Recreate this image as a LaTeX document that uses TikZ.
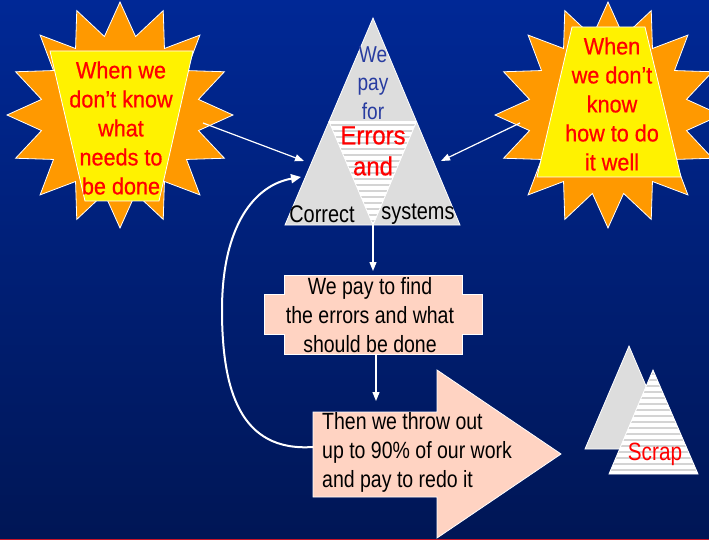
\documentclass[tikz,border=0pt]{standalone}
\usepackage{fontspec}
\newfontfamily\narrowfont{Liberation Sans}[FakeStretch=0.83]
\newfontfamily\redfont{Liberation Sans}[FakeStretch=0.92,FakeBold=0.6]
\usetikzlibrary{arrows.meta}
\definecolor{bgtop}{RGB}{0,40,150}
\definecolor{bgbot}{RGB}{0,22,85}
\definecolor{burst}{RGB}{255,153,0}
\definecolor{peach}{RGB}{255,211,194}
\definecolor{trigray}{RGB}{221,221,221}
\definecolor{stripegray}{RGB}{212,212,212}
\definecolor{blueword}{RGB}{40,60,160}
\definecolor{edgered}{RGB}{200,20,40}

\begin{document}
\begin{tikzpicture}[x=1pt,y=-1pt,
  burstshape/.style={fill=burst,draw=white,line width=0.8pt,line join=miter},
  panel/.style={fill=yellow,draw=white,line width=0.8pt},
  tri/.style={fill=trigray,draw=white,line width=0.8pt},
  peachshape/.style={fill=peach,draw=white,line width=0.8pt},
  pointer/.style={draw=white,line width=1.2pt,-{Triangle[length=9pt,width=7pt]}},
  backarrow/.style={draw=white,line width=2pt,-{Triangle[length=10pt,width=9pt]}},
  txt/.style={inner sep=0pt,align=center,font=\narrowfont\fontsize{23.5}{29}\selectfont},
  redtxt/.style={txt,text=red,font=\redfont\fontsize{23.5}{29}\selectfont},
  stripes/.style={stripegray,line width=2pt},
]

% background
\shade[top color=bgtop,bottom color=bgbot] (0,0) rectangle (709,540);
\useasboundingbox (0,0) rectangle (709,540);
\draw[edgered,line width=1.2pt] (0,539.4) -- (709,539.4);

% left starburst
\begin{scope}[shift={(120,115)}]
  \draw[burstshape] (90:113) \foreach \k in {0,...,15}{ -- ({101.25+\k*22.5}:80) -- ({112.5+\k*22.5}:113)} -- cycle;
\end{scope}
\draw[panel] (50,51) -- (193,51) -- (159,201) -- (85,201) -- cycle;
\node[redtxt] (leftText) at (121,128) {When we\\don’t know\\what\\needs to\\be done};

% right starburst
\begin{scope}[shift={(608,115)}]
  \draw[burstshape] (90:113) \foreach \k in {0,...,15}{ -- ({101.25+\k*22.5}:80) -- ({112.5+\k*22.5}:113)} -- cycle;
\end{scope}
\draw[panel] (572,27) -- (645,27) -- (681,177) -- (537,177) -- cycle;
\node[redtxt] (rightText) at (612,104) {When\\we don’t\\know\\how to do\\it well};

% central triangle
\draw[tri] (373,18) -- (460,225) -- (285,225) -- cycle;
\begin{scope}
  \clip (329,121.5) -- (416.5,121.5) -- (373,225) -- cycle;
  \fill[white] (320,115) rectangle (425,230);
  \foreach \y in {125,131,...,224} \draw[stripes] (320,\y) -- (425,\y);
\end{scope}
\draw[white,line width=0.8pt] (329,121.5) -- (416.5,121.5) -- (373,225) -- cycle;
\node[txt,text=blueword,font=\narrowfont\fontsize{23}{28.5}\selectfont] (payFor) at (373,83) {We\\pay\\for};
\node[redtxt,font=\redfont\fontsize{26}{31}\selectfont] (errors) at (373,151) {Errors\\and};
\node[txt,text=black,font=\narrowfont\fontsize{24}{29}\selectfont] (correct) at (322,214) {Correct};
\node[txt,text=black,font=\narrowfont\fontsize{24}{29}\selectfont] (systems) at (418,214) {systems};

% cross-shaped box
\draw[peachshape] (284,275) -- (462,275) -- (462,294) -- (482,294) -- (482,334) -- (462,334)
  -- (462,354) -- (284,354) -- (284,334) -- (264,334) -- (264,294) -- (284,294) -- cycle;
\node[txt,text=black] (findText) at (370,315) {We pay to find\\the errors and what\\should be done};

% big block arrow
\draw[peachshape] (313,412) -- (437,412) -- (437,370) -- (561,454) -- (437,538) -- (437,497) -- (313,497) -- cycle;
\node[txt,text=black,align=left,anchor=west] (redoText) at (322,452.5) {Then we throw out\\up to 90\% of our work\\and pay to redo it};

% scrap triangles
\draw[tri] (629,346) -- (673,449) -- (585,449) -- cycle;
\begin{scope}
  \clip (653,370) -- (698,474) -- (609,474) -- cycle;
  \fill[white] (600,365) rectangle (705,480);
  \foreach \y in {374,380,...,474} \draw[stripes] (600,\y) -- (705,\y);
\end{scope}
\draw[white,line width=0.8pt] (653,370) -- (698,474) -- (609,474) -- cycle;
\node[txt,text=red,font=\narrowfont\fontsize{25}{29}\selectfont] (scrap) at (655,454) {Scrap};

% connectors
\coordinate (lTail) at (203,123);
\coordinate (lTip) at (304,161);
\coordinate (rTail) at (520,123);
\coordinate (rTip) at (441,161);
\coordinate (triBase) at (373,225);
\coordinate (boxTop) at (373,271);
\coordinate (boxBase) at (376,354);
\coordinate (arrowTop) at (376,401);
\coordinate (loopStart) at (313,447);
\coordinate (loopEnd) at (301,177);

\draw[pointer] (lTail) -- (lTip);
\draw[pointer] (rTail) -- (rTip);
\draw[pointer] (triBase) -- (boxTop);
\draw[pointer] (boxBase) -- (arrowTop);
\draw[backarrow] (loopStart) .. controls (240,452) and (222,390) .. (222,310)
  .. controls (222,225) and (255,185) .. (loopEnd);
\end{tikzpicture}
\end{document}
